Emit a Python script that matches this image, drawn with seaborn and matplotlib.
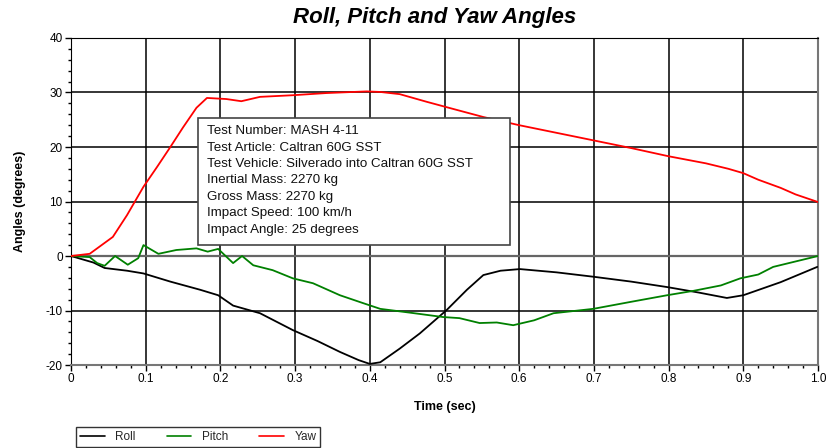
import numpy as np
import pandas as pd
import matplotlib
matplotlib.use('Agg')
import matplotlib.pyplot as plt
import matplotlib.patches as patches
import seaborn as sns
from matplotlib.ticker import MultipleLocator

# valores
yaw_t = [0.0, 0.025, 0.056, 0.075, 0.097, 0.115, 0.133, 0.15, 0.168, 0.182, 0.208, 0.228, 0.253,
         0.297, 0.342, 0.396, 0.414, 0.44, 0.476, 0.503, 0.552, 0.6, 0.65, 0.7, 0.75, 0.8, 0.85,
         0.88, 0.9, 0.92, 0.95, 0.97, 1.0]
yaw_v = [0.0, 0.4, 3.5, 7.5, 12.7, 16.3, 20.0, 23.6, 27.2, 29.0, 28.8, 28.4, 29.2,
         29.5, 29.9, 30.2, 30.1, 29.7, 28.3, 27.3, 25.5, 24.0, 22.6, 21.2, 19.8, 18.3, 17.0,
         16.0, 15.2, 14.0, 12.5, 11.3, 9.9]

roll_t = [0.0, 0.03, 0.045, 0.075, 0.097, 0.133, 0.173, 0.197, 0.217, 0.253, 0.297, 0.33, 0.36,
          0.385, 0.4, 0.414, 0.44, 0.467, 0.503, 0.53, 0.552, 0.575, 0.601, 0.65, 0.699, 0.75,
          0.798, 0.84, 0.878, 0.9, 0.95, 0.999]
roll_v = [0.0, -1.2, -2.2, -2.7, -3.2, -4.7, -6.2, -7.2, -9.1, -10.5, -13.6, -15.6, -17.6,
          -19.1, -19.8, -19.5, -17.0, -14.2, -9.9, -6.2, -3.5, -2.7, -2.4, -3.0, -3.8, -4.7,
          -5.7, -6.7, -7.7, -7.2, -4.8, -2.0]

pitch_t = [0.0, 0.025, 0.035, 0.045, 0.059, 0.076, 0.09, 0.097, 0.117, 0.141, 0.168, 0.183, 0.197,
           0.217, 0.229, 0.244, 0.27, 0.297, 0.324, 0.36, 0.39, 0.414, 0.454, 0.498, 0.52, 0.547,
           0.57, 0.592, 0.62, 0.646, 0.699, 0.75, 0.798, 0.833, 0.87, 0.896, 0.92, 0.94, 0.976, 1.0]
pitch_v = [0.0, -0.2, -1.3, -1.8, 0.0, -1.6, -0.4, 2.0, 0.4, 1.1, 1.4, 0.8, 1.3,
           -1.3, 0.0, -1.7, -2.6, -4.1, -5.0, -7.2, -8.6, -9.7, -10.4, -11.2, -11.4, -12.3,
           -12.2, -12.7, -11.8, -10.5, -9.7, -8.4, -7.2, -6.4, -5.4, -4.1, -3.4, -2.0, -0.8, 0.0]

info = ['Test Number: MASH 4-11',
        'Test Article: Caltran 60G SST',
        'Test Vehicle: Silverado into Caltran 60G SST',
        'Inertial Mass: 2270 kg',
        'Gross Mass: 2270 kg',
        'Impact Speed: 100 km/h',
        'Impact Angle: 25 degrees']

sns.set_style('white')
plt.rcParams['font.family'] = ['Liberation Sans', 'DejaVu Sans']
plt.rcParams['axes.unicode_minus'] = False

df = pd.concat([
    pd.DataFrame({'t': roll_t, 'v': roll_v, 's': 'Roll'}),
    pd.DataFrame({'t': pitch_t, 'v': pitch_v, 's': 'Pitch'}),
    pd.DataFrame({'t': yaw_t, 'v': yaw_v, 's': 'Yaw'}),
])

fig = plt.figure(figsize=(8.27, 4.48), dpi=100)
ax = fig.add_axes([71/827, 1 - 365/448, 747/827, 327/448])

sns.lineplot(data=df, x='t', y='v', hue='s', palette={'Roll': 'black', 'Pitch': 'green', 'Yaw': 'red'},
             linewidth=1.3, ax=ax, legend=False, sort=False, estimator=None, zorder=3)

ax.set_xlim(0, 1.0)
ax.set_ylim(-20, 40)
ax.xaxis.set_major_locator(MultipleLocator(0.1))
ax.xaxis.set_minor_locator(MultipleLocator(0.02))
ax.yaxis.set_major_locator(MultipleLocator(10))
ax.yaxis.set_minor_locator(MultipleLocator(2))
ax.set_xticks(np.arange(0, 1.01, 0.1))
ax.set_xticklabels(['0', '0.1', '0.2', '0.3', '0.4', '0.5', '0.6', '0.7', '0.8', '0.9', '1.0'])
ax.tick_params(which='major', direction='out', length=4, width=1, color='black', labelsize=8.5, pad=2,
               labelcolor='black')
ax.tick_params(which='minor', direction='out', length=2.5, width=1, color='black')
ax.tick_params(axis='x', bottom=True, which='both')
ax.tick_params(axis='y', left=True, which='both')
ax.grid(True, which='major', color='black', linewidth=1.1)
ax.axhline(0, color='#666666', linewidth=1.6, zorder=2)
for s in ['top', 'left']:
    ax.spines[s].set_color('black')
for s in ['bottom', 'right']:
    ax.spines[s].set_color('#777777')
    ax.spines[s].set_linewidth(1.5)

ax.set_xlabel('Time (sec)', fontsize=9, fontweight='bold', labelpad=11, color='black')
ax.set_ylabel('Angles (degrees)', fontsize=9, fontweight='bold', labelpad=14, color='black')
fig.text(435/827, 1 - 18/448, 'Roll, Pitch and Yaw Angles', ha='center', va='center',
         fontsize=16, fontweight='bold', fontstyle='italic', color='black')

# caixa com dados do ensaio
ax.add_patch(patches.Rectangle((0.170, 2.0), 0.418, 23.3, fc='white', ec='#444444', lw=1.2, zorder=5))
ax.text(0.182, 24.0, '\n'.join(info), fontsize=9.6, linespacing=1.49, va='top', ha='left', zorder=6,
        color='#111111')

handles = [plt.Line2D([], [], color=c, lw=1.2) for c in ['black', 'green', 'red']]
leg = fig.legend(handles, ['Roll', 'Pitch', 'Yaw'], ncol=3, loc='lower left',
                 bbox_to_anchor=(70/827, -0.012), fontsize=8.5, frameon=True, fancybox=False,
                 handlelength=2.1, columnspacing=2.6, borderpad=0.35, handletextpad=0.9)
leg.get_frame().set_edgecolor('black')
leg.get_frame().set_linewidth(1)

fig.savefig('out.png', dpi=100)
